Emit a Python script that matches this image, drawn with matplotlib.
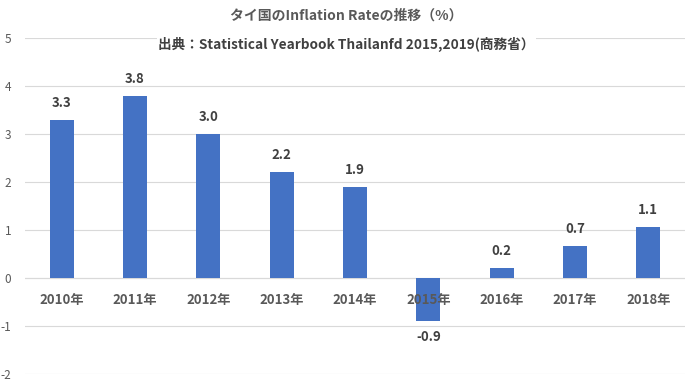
import matplotlib
matplotlib.use("Agg")
import matplotlib.pyplot as plt
import matplotlib.transforms as mtransforms

plt.rcParams['font.family'] = ['Noto Sans CJK JP', 'DejaVu Sans']

categories = ["2010年", "2011年", "2012年", "2013年", "2014年", "2015年", "2016年", "2017年", "2018年"]
values = [3.3, 3.8, 3.0, 2.2, 1.9, -0.9, 0.2, 0.67, 1.07]
yticks = [-2, -1, 0, 1, 2, 3, 4, 5]
title = "タイ国のInflation Rateの推移（%）"
subtitle = "出典：Statistical Yearbook Thailanfd 2015,2019(商務省）"

fig = plt.figure(figsize=(6.93, 3.83), dpi=100)
ax = fig.add_axes([25/693, 9/383, 660/693, 336/383])

x = list(range(len(categories)))
ax.bar(x, values, width=0.33, color="#4472C4", zorder=3)
ax.set_xlim(-0.5, len(categories) - 0.5)
ax.set_ylim(-2, 5)
ax.set_yticks(yticks)
ax.set_yticklabels([str(t) for t in yticks], fontsize=8.5, color="#595959")
ax.tick_params(axis='y', length=0, pad=10)
ax.set_xticks([])
ax.grid(axis='y', color="#d9d9d9", linewidth=0.8, zorder=0)
for s in ax.spines.values():
    s.set_visible(False)
ax.axhline(0, color="#d9d9d9", linewidth=0.8, zorder=1)

trans = mtransforms.offset_copy(ax.transData, fig=fig, x=0, y=-22, units='dots')
for xi, cat in zip(x, categories):
    ax.text(xi, 0, cat, transform=trans, ha='center', va='center', fontsize=9.5,
            fontweight='bold', color="#595959", zorder=5)

for xi, v in zip(x, values):
    off = 17 if v >= 0 else -16
    t = mtransforms.offset_copy(ax.transData, fig=fig, x=0, y=off, units='dots')
    ax.text(xi, v, f"{v:.1f}", transform=t, ha='center', va='center', fontsize=9.5,
            fontweight='bold', color="#404040", zorder=5)

fig.text(0.5, 1 - 16/383, title, ha='center', va='center', fontsize=10,
         fontweight='bold', color="#595959")
fig.text(0.5, 1 - 44/383, subtitle, ha='center', va='center', fontsize=9.8,
         fontweight='bold', color="#404040", zorder=10,
         bbox=dict(facecolor='white', edgecolor='none', pad=1))

fig.savefig("out.png", dpi=100, facecolor='white')
